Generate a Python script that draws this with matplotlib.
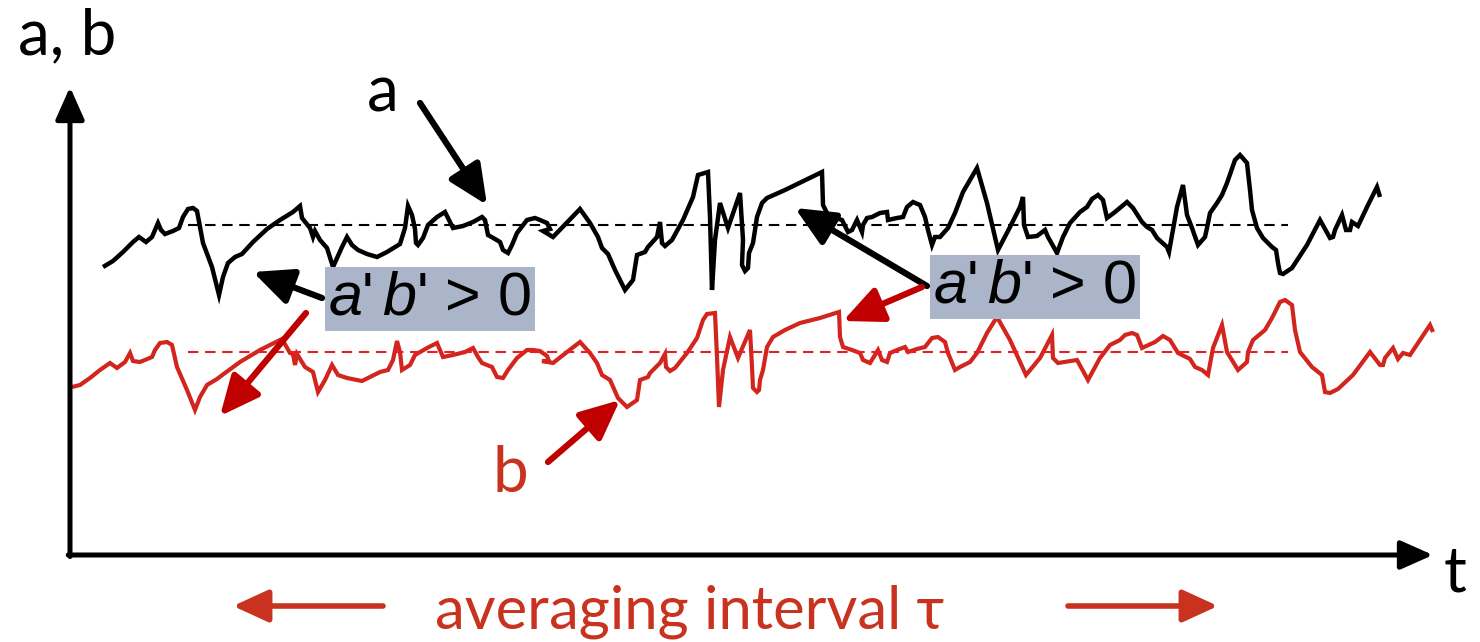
import matplotlib
matplotlib.use("Agg")
import matplotlib.pyplot as plt

# time samples and values of the two signals
a_t = [3.3, 4.3, 5.3, 6.3, 6.9, 7.6, 8.2, 8.8, 9.1, 9.5, 10.3, 10.9, 11.3, 11.8, 12.3, 12.7,
       13.0, 13.3, 14.2, 14.9, 15.3, 15.8, 16.5, 17.2, 18.3, 19.7, 21.0, 22.3, 23.0, 23.2,
       24.0, 24.3, 24.5, 25.0, 25.7, 26.3, 27.2, 27.7, 28.2, 28.8, 29.7, 30.7, 31.7, 32.5,
       33.0, 33.5, 33.8, 34.2, 34.5, 34.6, 34.8, 35.3, 35.8, 36.7, 37.5, 38.3, 39.3, 40.3,
       41.2, 41.5, 41.8, 42.5, 43.0, 43.3, 43.8, 44.2, 44.7, 45.7, 46.5, 47.0, 47.7, 48.0,
       47.3, 48.3, 51.0, 52.0, 52.8, 53.2, 53.8, 54.5, 55.5, 56.3, 56.7, 57.5, 57.8, 58.7,
       59.0, 59.2, 59.5, 60.2, 61.3, 62.3, 62.8, 63.8, 64.0, 64.2, 64.5, 65.0, 65.8, 67.0,
       67.3, 67.2, 67.5, 67.8, 67.9, 68.3, 68.7, 69.2, 69.7, 71.5, 75.2, 75.3, 75.7, 76.3,
       77.2, 77.8, 78.2, 78.7, 79.2, 79.3, 79.7, 80.2, 81.0, 81.7, 81.8, 82.7, 83.3, 83.7,
       84.3, 85.0, 85.5, 85.8, 86.2, 86.5, 87.0, 87.8, 88.5, 89.3, 90.7, 91.7, 92.8, 94.0,
       95.0, 95.3, 95.4, 95.8, 96.7, 97.5, 97.8, 98.7, 99.3, 100.0, 101.0, 101.7, 102.2,
       102.8, 103.3, 103.7, 104.5, 105.7, 106.3, 107.2, 107.7, 108.2, 108.7, 109.7, 109.9,
       110.7, 111.3, 111.7, 112.2, 112.8, 113.5, 113.7, 114.0, 114.7, 115.2, 115.7, 116.5,
       117.0, 117.7, 118.0, 118.2, 118.7, 119.3, 120.2, 120.6, 120.8, 121.0, 121.3, 122.2,
       123.7, 125.0, 126.0, 126.3, 126.5, 127.2, 127.6, 128.0, 128.2, 128.8, 129.8, 130.7,
       131.0]
a_v = [28.8, 29.4, 30.3, 31.3, 31.8, 31.3, 31.8, 33.2, 32.5, 32.1, 32.4, 32.7, 33.8, 34.6,
       34.7, 34.4, 32.8, 31.2, 28.8, 26.0, 27.8, 29.2, 29.8, 30.1, 31.3, 32.6, 33.5, 34.3,
       34.9, 33.7, 32.7, 31.8, 32.4, 31.5, 30.7, 28.8, 30.8, 31.8, 31.0, 30.5, 30.1, 29.8,
       30.3, 30.8, 31.1, 32.7, 34.9, 34.0, 32.6, 31.2, 31.0, 31.7, 33.0, 33.8, 34.3, 32.7,
       32.9, 33.3, 33.8, 33.5, 32.0, 31.6, 31.3, 30.5, 30.2, 31.0, 32.2, 33.5, 33.7, 33.5,
       33.2, 32.6, 32.4, 31.8, 34.6, 33.2, 31.8, 30.7, 30.1, 28.5, 26.5, 27.5, 30.0, 30.3,
       30.8, 31.8, 33.3, 31.2, 30.9, 31.5, 33.5, 35.8, 38.0, 38.3, 33.8, 26.5, 31.5, 35.2,
       32.7, 36.2, 31.5, 29.0, 28.4, 28.7, 30.2, 31.2, 33.8, 35.2, 35.7, 36.5, 38.3, 35.0,
       34.2, 33.8, 33.5, 32.3, 32.5, 33.5, 32.3, 33.0, 33.7, 33.8, 34.2, 34.3, 33.5, 33.7,
       33.8, 34.8, 35.3, 35.0, 33.8, 32.5, 31.0, 31.8, 31.8, 32.7, 34.2, 36.3, 38.7, 35.2,
       30.5, 32.8, 34.8, 35.8, 33.0, 31.8, 31.9, 32.5, 31.8, 30.2, 31.8, 33.2, 34.3, 34.8,
       35.6, 36.0, 35.5, 33.7, 34.3, 35.3, 34.7, 33.3, 32.8, 32.5, 31.7, 30.8, 30.3, 34.8,
       37.0, 34.0, 32.7, 31.0, 31.8, 32.7, 34.2, 35.2, 36.0, 37.2, 39.5, 40.0, 39.2, 36.5,
       34.5, 32.7, 31.7, 30.8, 30.5, 29.2, 28.2, 28.1, 28.7, 31.0, 33.5, 31.7, 31.8, 32.5,
       34.0, 32.5, 32.5, 33.3, 32.9, 35.0, 36.8, 35.8]

b_t = [0.2, 1.0, 2.0, 3.0, 4.0, 4.7, 5.5, 6.0, 6.3, 7.0, 8.2, 8.5, 9.0, 9.7, 10.2, 10.7,
       11.7, 12.5, 13.0, 13.7, 14.7, 15.5, 17.0, 19.0, 21.2, 22.0, 22.3, 22.5, 22.7, 23.5,
       24.3, 24.8, 25.5, 26.2, 26.8, 27.7, 29.2, 30.0, 31.0, 31.8, 32.3, 32.7, 33.0, 33.2,
       34.0, 34.5, 35.7, 36.7, 37.3, 38.3, 39.5, 40.3, 40.8, 41.2, 42.2, 42.7, 43.3, 43.8,
       44.7, 45.7, 46.3, 47.0, 47.7, 47.9, 47.2, 48.3, 49.7, 51.0, 52.0, 52.7, 53.2, 54.0,
       54.8, 55.7, 56.7, 57.0, 57.8, 58.0, 59.0, 59.5, 59.6, 60.0, 60.5, 61.7, 62.7, 63.3,
       63.7, 64.5, 64.7, 64.9, 65.3, 66.0, 66.8, 68.0, 68.2, 68.3, 68.7, 68.9, 69.0, 69.3,
       69.7, 70.3, 71.5, 73.0, 75.0, 76.9, 77.0, 77.3, 78.2, 79.0, 79.3, 80.0, 80.5, 80.8,
       81.2, 81.7, 82.0, 82.7, 83.5, 83.8, 84.7, 85.5, 86.2, 86.8, 87.5, 87.8, 88.5, 89.0,
       90.0, 90.7, 91.7, 92.7, 94.0, 95.6, 97.0, 98.2, 98.3, 98.8, 100.7, 101.8, 103.0,
       104.0, 105.0, 105.5, 106.2, 106.7, 107.2, 108.5, 109.3, 110.0, 110.8, 112.0, 112.5,
       113.2, 113.8, 114.3, 115.2, 115.7, 116.8, 117.7, 117.8, 118.3, 119.5, 120.2, 121.0,
       121.5, 122.2, 122.5, 123.0, 124.2, 125.2, 125.5, 126.0, 126.8, 128.3, 130.0, 131.0,
       131.3, 131.5, 132.3, 132.8, 133.3, 134.0, 136.0, 136.3]
b_v = [16.8, 17.0, 17.7, 18.5, 19.2, 18.7, 19.3, 20.2, 19.4, 19.3, 19.8, 20.5, 21.2, 21.3,
       21.0, 18.8, 16.5, 14.5, 15.8, 17.0, 17.6, 18.2, 19.3, 20.5, 21.6, 20.2, 20.1, 19.0,
       20.1, 18.8, 18.3, 16.3, 17.5, 19.0, 18.0, 17.7, 17.4, 17.8, 18.3, 18.5, 19.5, 21.4,
       20.3, 18.5, 19.0, 20.0, 20.7, 21.2, 19.8, 20.0, 20.3, 20.7, 19.8, 19.2, 18.8, 17.8,
       17.7, 18.5, 19.7, 20.5, 20.5, 20.4, 19.9, 19.4, 19.4, 19.2, 20.3, 21.3, 20.2, 19.2,
       18.0, 17.5, 15.7, 14.8, 15.5, 17.5, 17.8, 18.2, 19.2, 20.1, 18.8, 18.4, 18.7, 20.2,
       21.7, 23.5, 24.1, 24.2, 19.8, 14.8, 18.5, 21.8, 19.7, 22.5, 18.8, 16.7, 16.3, 16.5,
       17.5, 18.5, 20.8, 21.8, 22.5, 23.2, 23.7, 24.3, 21.8, 20.8, 20.5, 20.2, 19.5, 19.2,
       20.0, 20.5, 19.5, 19.3, 20.2, 20.5, 20.8, 20.3, 20.6, 20.8, 21.7, 21.8, 21.3, 20.2,
       18.5, 18.8, 19.3, 20.2, 22.2, 23.8, 21.5, 18.0, 19.7, 22.0, 19.7, 19.2, 19.5, 17.5,
       19.7, 21.0, 21.5, 22.0, 22.2, 22.0, 20.7, 21.3, 21.9, 21.5, 20.2, 19.6, 18.8, 18.5,
       18.0, 20.7, 23.0, 20.3, 18.5, 19.3, 20.3, 21.5, 22.5, 23.7, 25.3, 25.5, 25.0, 22.5,
       20.3, 18.8, 18.0, 16.3, 16.2, 16.6, 18.0, 20.3, 19.0, 19.0, 19.7, 20.7, 19.6, 20.2,
       20.0, 23.0, 22.3]

# averaging interval and the two means
avg_start, avg_end = 11.8, 121.8
a_mean = 33.0
b_mean = 20.3

BLACK = "#000000"
RED_LINE = "#d2251d"
RED_DASH = "#ea1c24"
RED_ARROW = "#c00000"
RED_TEXT = "#c8321e"
BOX = "#aab5c9"
LABEL_FONT = ["Lato", "DejaVu Sans"]

fig = plt.figure(figsize=(14.8, 6.42), dpi=100)
ax = fig.add_axes([0, 0, 1, 1])
ax.set_xlim(-7.0, 141.0)
ax.set_ylim(-8.7, 55.5)
ax.axis("off")

# coordinate axes with arrow heads
axis_style = dict(arrowstyle="-|>,head_length=0.9,head_width=0.4", lw=3.6,
                  color=BLACK, shrinkA=0, shrinkB=0, mutation_scale=22)
ax.annotate("", xy=(0, 46.8), xytext=(0, -0.15), arrowprops=axis_style)
ax.annotate("", xy=(136.3, 0), xytext=(-0.18, 0), arrowprops=axis_style)

# signals
ax.plot(a_t, a_v, color=BLACK, lw=3.2, solid_joinstyle="miter", solid_capstyle="butt")
ax.plot(b_t, b_v, color=RED_LINE, lw=3.0, solid_joinstyle="miter", solid_capstyle="butt")

# mean levels over the averaging interval
ax.plot([avg_start, avg_end], [a_mean, a_mean], color=BLACK, lw=1.5, dashes=(5, 3.2))
ax.plot([avg_start, avg_end], [b_mean, b_mean], color=RED_DASH, lw=1.5, dashes=(5, 3.2))

# axis labels
ax.text(-0.3, 51.9, "a, b", fontsize=46, family=LABEL_FONT, ha="center", va="center")
ax.text(138.5, -1.9, "t", fontsize=46, family=LABEL_FONT, ha="center", va="center")

# series labels with pointers
big_arrow = "-|>,head_length=1.2,head_width=0.55"
ax.text(31.3, 46.2, "a", fontsize=46, family=LABEL_FONT, ha="center", va="center")
ax.annotate("", xy=(41.7, 35.0), xytext=(35.0, 45.2),
            arrowprops=dict(arrowstyle=big_arrow, lw=4.5, color=BLACK,
                            shrinkA=0, shrinkB=0, mutation_scale=20))
ax.text(44.0, 8.1, "b", fontsize=46, family=LABEL_FONT, ha="center", va="center",
        color=RED_TEXT)
ax.annotate("", xy=(55.0, 15.5), xytext=(47.8, 9.3),
            arrowprops=dict(arrowstyle=big_arrow, lw=4.5, color=RED_ARROW,
                            shrinkA=0, shrinkB=0, mutation_scale=20))

# covariance boxes
matplotlib.rcParams["mathtext.fontset"] = "custom"
matplotlib.rcParams["mathtext.it"] = "Liberation Sans:italic"
matplotlib.rcParams["mathtext.rm"] = "Liberation Sans"
cov_label = r"$a$'$\,b$' > 0"
boxes = [
    # box centre, black-arrow tip, red-arrow tail, red-arrow tip
    ((36.0, 25.6), (18.3, 28.3), (23.6, 24.2), (15.0, 13.9)),
    ((96.5, 26.8), (72.5, 34.7), (85.2, 26.8), (77.3, 23.4)),
]
for (bx, by), (ka, kb), (rs, rt), (ra, rb) in boxes:
    ax.text(bx, by, cov_label, fontsize=44, family="Liberation Sans",
            ha="center", va="center",
            bbox=dict(boxstyle="square,pad=0.05", fc=BOX, ec="none"), zorder=5)
    left = bx - 10.8
    ax.annotate("", xy=(ka, kb), xytext=(left, by + 0.1),
                arrowprops=dict(arrowstyle=big_arrow, lw=4.5, color=BLACK,
                                shrinkA=0, shrinkB=0, mutation_scale=20), zorder=4)
    ax.annotate("", xy=(ra, rb), xytext=(rs, rt),
                arrowprops=dict(arrowstyle=big_arrow, lw=4.5, color=RED_ARROW,
                                shrinkA=0, shrinkB=0, mutation_scale=20), zorder=4)

# averaging interval
ax.text(62.0, -5.7, "averaging interval τ", fontsize=43, family=LABEL_FONT,
        ha="center", va="center", color=RED_TEXT)
ax.annotate("", xy=(16.3, -5.1), xytext=(31.3, -5.1),
            arrowprops=dict(arrowstyle=big_arrow, lw=4.0, color=RED_TEXT,
                            shrinkA=0, shrinkB=0, mutation_scale=18))
ax.annotate("", xy=(114.8, -5.1), xytext=(99.8, -5.1),
            arrowprops=dict(arrowstyle=big_arrow, lw=4.0, color=RED_TEXT,
                            shrinkA=0, shrinkB=0, mutation_scale=18))

fig.savefig("out.png", dpi=100)
